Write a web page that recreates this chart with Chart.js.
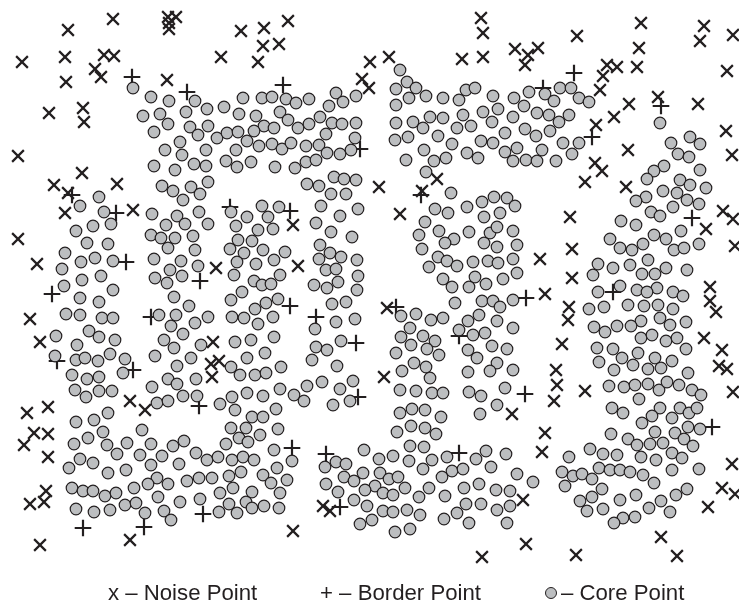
<!DOCTYPE html>
<html>
<head>
<meta charset="utf-8">
<script src="https://cdn.jsdelivr.net/npm/chart.js@4"></script>
<style>
html,body{margin:0;padding:0;background:#fff;overflow:hidden}
#wrap{position:relative;width:739px;height:608px}
canvas{position:absolute;left:0;top:0}
.lg{position:absolute;top:580px;font:22.2px/26px "Liberation Sans",Arial,sans-serif;color:#231f20;white-space:nowrap}
.dot{position:absolute;left:545px;top:587px;width:10px;height:10px;border-radius:50%;background:#bcbec0;border:1px solid #231f20}
</style>
</head>
<body>
<div id="wrap">
<canvas id="c" width="739" height="608"></canvas>
<div class="lg" style="left:108px">x – Noise Point</div>
<div class="lg" style="left:320px">+ – Border Point</div>
<div class="dot"></div>
<div class="lg" style="left:561px">– Core Point</div>
</div>
<script>
const noisePoints = [
[113,19],[68,30],[168,17],[176,17],[169,23],[169,29],[241,31],[22,62],[65,57],[104,55],[114,56],[221,57],[95,69],[101,77],[66,82],[167,80],[49,113],[83,108],[84,122],[18,156],[82,173],[54,185],[117,184],[68,193],
[264,28],[288,21],[263,46],[279,44],[258,62],[370,62],[389,57],[362,79],[369,88],[481,18],[483,33],[462,59],[483,57],[379,187],[437,179],[422,191],
[641,23],[704,26],[733,35],[700,41],[577,36],[515,49],[538,48],[528,55],[525,65],[639,48],[637,67],[607,65],[617,67],[603,76],[727,71],[600,90],[629,104],[658,97],[698,104],[614,117],[596,125],[726,131],[628,150],[732,155],[595,163],[602,171],[585,182],[626,187],
[65,213],[133,210],[18,239],[37,264],[30,319],[40,342],[216,268],[213,342],[219,361],[211,364],[212,377],
[293,225],[298,266],[400,214],[387,308],[384,377],
[570,217],[572,249],[540,259],[572,278],[545,294],[569,307],[568,320],[562,344],[556,370],[557,385],[585,391],[723,211],[733,219],[706,229],[735,246],[710,287],[710,301],[716,312],[704,338],[722,350],[719,366],[727,369],[733,392],
[48,407],[27,413],[34,433],[48,434],[24,445],[48,457],[46,491],[44,502],[30,504],[40,545],[130,401],[145,410],[130,540],
[293,531],[323,506],[330,511],[482,557],
[554,401],[512,414],[545,433],[542,452],[523,500],[526,544],[576,555],[661,537],[677,556],[708,507],[722,488],[735,494],[732,464]
];
const borderPoints = [
[132,77],[187,92],[72,195],[283,85],[360,149],[421,195],[574,73],[543,88],[661,106],[592,137],
[116,213],[230,207],[126,262],[200,281],[52,294],[151,317],[57,361],[133,370],
[290,211],[290,306],[316,317],[356,343],[396,307],[459,336],
[526,298],[692,218],[613,292],
[199,406],[83,528],[144,527],[203,514],
[358,397],[292,448],[326,454],[340,507],[459,453],
[525,394],[712,427]
];
const corePoints = [
[133,88],[151,97],[169,101],[195,101],[243,98],[207,109],[224,107],[143,116],[160,114],[186,112],[239,114],[168,124],[154,132],[190,127],[208,126],[198,135],[217,138],[227,133],[238,132],[247,141],[180,142],[165,150],[182,155],[206,150],[236,150],[154,166],[175,170],[194,164],[206,166],[226,161],[237,167],[162,186],[173,191],[191,187],[208,182],[200,194],[183,200],[99,197],
[262,98],[272,97],[286,99],[296,103],[309,99],[336,93],[343,102],[356,96],[329,106],[280,112],[256,116],[288,120],[264,126],[274,128],[254,131],[298,128],[309,124],[320,117],[332,123],[342,124],[356,123],[326,134],[355,138],[259,146],[272,144],[282,149],[291,143],[306,146],[319,145],[327,153],[340,154],[351,150],[251,162],[275,167],[295,168],[306,162],[316,160],[307,184],[319,186],[334,177],[344,179],[356,180],[331,194],[346,194],
[400,70],[407,82],[416,88],[396,89],[409,98],[426,96],[396,105],[443,98],[459,100],[466,90],[475,88],[493,96],[483,112],[498,109],[492,122],[463,115],[443,118],[430,117],[413,122],[423,128],[396,123],[457,128],[471,126],[395,140],[408,137],[438,136],[452,144],[481,141],[493,143],[424,150],[467,153],[478,158],[446,158],[434,161],[406,160],[426,172],[451,193],[482,202],[494,197],
[529,92],[514,98],[524,106],[545,94],[554,101],[560,88],[571,88],[579,98],[589,102],[513,117],[537,113],[549,115],[569,115],[559,122],[505,133],[525,129],[536,136],[550,131],[563,143],[579,143],[572,154],[517,148],[505,152],[542,150],[513,161],[526,160],[537,161],[556,161],[507,198],
[660,123],[671,143],[690,137],[700,144],[678,154],[689,157],[664,166],[654,171],[647,179],[700,170],[680,180],[690,185],[706,188],[663,191],[677,193],[646,197],[636,201],[687,200],
[80,206],[104,212],[111,224],[93,226],[76,231],[87,243],[108,244],[65,253],[81,262],[95,258],[113,261],[62,269],[82,280],[101,276],[64,286],[113,290],[80,298],[99,302],[66,314],[80,315],[102,318],[113,318],[89,331],[99,337],[56,336],[115,340],[77,345],[110,354],[55,356],[76,360],[85,358],[98,361],[125,359],[123,373],[72,375],[87,379],[99,377],
[152,214],[177,216],[199,212],[166,225],[185,224],[208,224],[151,235],[161,238],[175,238],[193,236],[168,248],[195,250],[154,259],[181,261],[198,266],[170,270],[155,278],[182,276],[167,283],[174,297],[189,306],[159,315],[176,315],[208,317],[195,323],[171,326],[183,334],[164,340],[174,348],[201,345],[155,356],[191,358],[177,366],[168,379],[177,384],[196,379],[152,387],
[231,212],[247,217],[236,226],[238,240],[230,249],[244,253],[237,262],[234,275],[242,292],[231,300],[232,317],[244,318],[235,342],[247,358],[231,367],[240,375],
[262,206],[279,207],[268,217],[321,206],[340,216],[358,209],[316,223],[258,230],[273,229],[331,232],[352,237],[252,241],[320,245],[263,250],[285,252],[330,253],[341,257],[319,259],[274,260],[256,264],[357,260],[326,270],[336,269],[358,276],[280,275],[254,281],[262,285],[271,284],[314,285],[327,288],[338,282],[357,290],[278,299],[266,303],[255,309],[332,304],[346,302],[273,317],[258,324],[336,322],[355,319],[315,329],[274,337],[251,340],[316,347],[327,350],[341,341],[265,353],[312,360],[337,366],[281,367],[255,375],[266,373],[322,382],[307,386],[353,381],[280,389],[340,389],
[435,209],[448,213],[467,207],[484,217],[500,213],[425,222],[439,231],[419,235],[469,232],[490,233],[497,227],[454,239],[445,243],[484,243],[422,249],[497,247],[438,257],[447,261],[457,266],[473,262],[488,261],[498,263],[429,267],[475,277],[443,279],[486,284],[452,287],[469,287],[455,303],[482,301],[493,301],[500,307],[479,315],[468,321],[497,321],[401,316],[416,314],[431,320],[443,318],[410,328],[459,330],[485,333],[473,335],[401,337],[423,336],[435,341],[411,345],[427,349],[492,346],[468,350],[396,353],[439,355],[477,358],[497,363],[414,363],[426,367],[490,371],[468,372],[402,371],[430,378],
[515,206],[513,231],[517,245],[513,259],[517,273],[503,279],[513,300],[513,328],[507,349],[513,370],[505,388],
[699,204],[673,207],[651,212],[660,216],[621,221],[636,225],[681,231],[654,235],[666,239],[610,239],[699,244],[643,244],[620,248],[632,250],[674,250],[684,248],[648,260],[598,264],[613,268],[630,265],[666,268],[593,275],[642,274],[655,274],[687,270],[620,286],[657,288],[637,290],[647,292],[598,292],[673,292],[683,296],[604,307],[589,309],[628,305],[644,306],[658,305],[673,309],[641,321],[660,318],[670,325],[686,322],[594,327],[605,332],[617,326],[631,326],[641,338],[652,335],[666,341],[677,338],[686,349],[597,348],[613,349],[638,353],[622,358],[655,358],[672,361],[599,362],[633,365],[648,369],[661,368],[614,370],[688,373],[609,386],[624,387],[635,385],[648,384],[659,390],[667,382],[679,385],[692,390],
[75,390],[86,397],[99,391],[112,391],[183,396],[197,396],[157,403],[168,401],[220,404],[232,397],[235,410],[247,393],[76,422],[94,420],[108,413],[142,430],[103,432],[231,428],[246,428],[252,417],[74,444],[88,438],[107,445],[127,443],[151,444],[173,446],[184,441],[226,444],[239,438],[248,442],[117,454],[140,455],[162,456],[196,453],[207,460],[218,457],[232,460],[243,457],[80,459],[93,463],[69,468],[151,465],[179,464],[108,473],[126,470],[241,472],[229,476],[157,478],[199,478],[212,478],[187,481],[148,484],[168,484],[72,488],[83,491],[93,491],[105,496],[116,493],[134,488],[233,488],[220,493],[252,492],[158,497],[180,502],[200,499],[246,502],[125,505],[136,503],[229,504],[76,509],[94,512],[110,510],[164,511],[145,513],[171,520],[219,512],[237,513],[252,508],
[263,396],[294,395],[304,401],[350,401],[333,405],[276,409],[263,417],[278,429],[260,435],[274,450],[292,461],[254,460],[277,468],[263,475],[271,483],[287,480],[280,493],[264,506],[279,508],
[400,390],[416,391],[432,393],[443,393],[400,413],[412,409],[425,410],[441,417],[397,432],[411,426],[425,428],[436,434],[469,392],[481,396],[497,405],[480,414],
[364,450],[379,459],[393,456],[410,446],[424,447],[409,461],[432,460],[447,457],[336,462],[346,464],[325,467],[363,473],[380,473],[344,477],[389,479],[398,477],[423,469],[452,471],[463,469],[476,459],[486,451],[491,467],[442,477],[354,481],[326,484],[375,486],[405,488],[429,488],[464,488],[479,484],[338,492],[365,490],[383,493],[393,495],[419,497],[445,496],[496,490],[354,500],[367,506],[466,504],[481,504],[383,511],[393,512],[407,510],[420,515],[457,513],[497,510],[360,524],[372,520],[444,519],[469,523],[395,532],[410,529],
[506,454],[517,474],[533,482],[510,491],[510,506],[507,523],
[701,395],[639,399],[612,408],[623,413],[660,408],[652,416],[642,423],[672,418],[680,408],[689,413],[697,408],[688,427],[700,429],[655,432],[675,433],[684,439],[693,446],[611,434],[628,439],[637,445],[650,444],[663,443],[590,449],[569,457],[603,454],[617,455],[641,457],[656,460],[672,453],[682,458],[672,470],[699,469],[599,468],[610,470],[620,470],[630,472],[643,475],[654,483],[562,472],[573,476],[582,474],[592,479],[565,486],[602,489],[592,497],[580,501],[587,511],[603,509],[620,500],[636,495],[661,501],[676,495],[687,489],[649,508],[670,512],[635,517],[623,518],[614,523]
];
const toXY = pts => pts.map(p => ({x:p[0], y:p[1]}));
const ink = '#231f20';
new Chart(document.getElementById('c'), {
  type:'scatter',
  data:{datasets:[
    {label:'Core Point', data:toXY(corePoints), pointStyle:'circle', pointRadius:5.8, pointBackgroundColor:'#bcbec0', pointBorderColor:ink, pointBorderWidth:1.2, order:1},
    {label:'Border Point', data:toXY(borderPoints), pointStyle:'cross', pointRadius:8.3, pointBorderColor:ink, pointBorderWidth:2.2, order:2},
    {label:'Noise Point', data:toXY(noisePoints), pointStyle:'crossRot', pointRadius:8.3, pointBorderColor:ink, pointBorderWidth:2.2, order:3}
  ]},
  options:{
    responsive:false, animation:false, devicePixelRatio:1,
    layout:{padding:0, autoPadding:false},
    plugins:{legend:{display:false},tooltip:{enabled:false}},
    scales:{
      x:{type:'linear',display:false,min:0,max:739},
      y:{type:'linear',display:false,min:0,max:608,reverse:true}
    }
  }
});
</script>
</body>
</html>
